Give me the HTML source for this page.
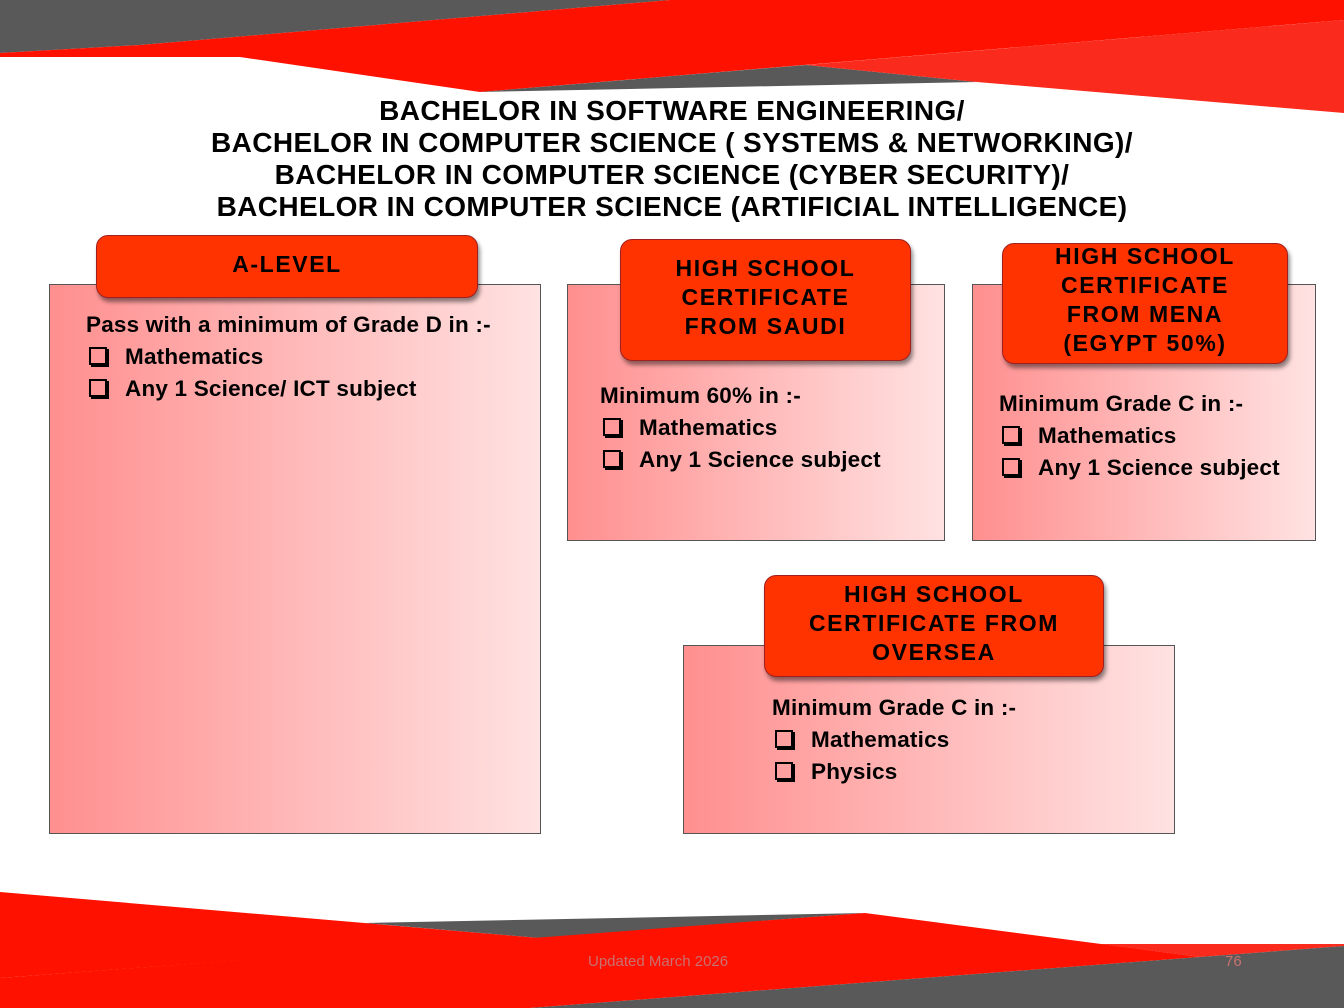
<!DOCTYPE html>
<html><head><style>
body{margin:0;width:1344px;height:1008px;position:relative;overflow:hidden;background:#fff;font-family:"Liberation Sans",Arial,sans-serif}
svg.bg{position:absolute;left:0;top:0}
.title{position:absolute;left:0;width:1344px;top:95px;text-align:center;font-weight:bold;font-size:28px;line-height:32px;color:#000;letter-spacing:0.4px}
.box{position:absolute;border:1px solid #555;background:linear-gradient(to right,#ff8f8f,#ffe2e2)}
.hd{position:absolute;background:#ff3300;border:1px solid #a02020;border-radius:12px;box-shadow:2px 4px 4px rgba(0,0,0,.45);color:#000;font-weight:bold;font-size:23px;line-height:29px;text-align:center;display:flex;align-items:center;justify-content:center;letter-spacing:1.6px}
.tx{position:absolute;font-size:22.5px;line-height:32px;color:#000;letter-spacing:0.2px;font-weight:600}
.cb{display:inline-block;width:14px;height:14px;border:2px solid #000;margin:0 18px 0 3px;vertical-align:-1px;box-shadow:2px 2px 0 #000}
.ft{position:absolute;top:953px;font-size:15px;color:#c97070}
</style></head><body>
<svg class="bg" width="1344" height="1008">
<polygon points="0,0 670,0 140,45 0,53" fill="#595959"/>
<polygon points="0,53 140,45 670,0 1344,0 1344,20 480,92 240,57 0,57" fill="#ff1100"/>
<polygon points="480,92 806,65 977,82" fill="#595959"/>
<polygon points="806,65 1344,20 1344,113 977,82" fill="#fa2a1c"/>
<polygon points="0,892 540,938 0,978" fill="#ff1100"/>
<polygon points="365,923 865,913 540,938" fill="#595959"/>
<polygon points="0,978 865,913 1200,957 530,1008 0,1008" fill="#ff1100"/>
<polygon points="1100,944 1344,944 1344,946 1200,957" fill="#fa2a1c"/>
<polygon points="1200,957 1344,946 1344,1008 530,1008" fill="#595959"/>
</svg>
<div class="title">BACHELOR IN SOFTWARE ENGINEERING/<br>BACHELOR IN COMPUTER SCIENCE ( SYSTEMS &amp; NETWORKING)/<br>BACHELOR IN COMPUTER SCIENCE (CYBER SECURITY)/<br>BACHELOR IN COMPUTER SCIENCE (ARTIFICIAL INTELLIGENCE)</div>

<div class="box" style="left:49px;top:284px;width:490px;height:548px"></div>
<div class="box" style="left:567px;top:284px;width:376px;height:255px"></div>
<div class="box" style="left:972px;top:284px;width:342px;height:255px"></div>
<div class="box" style="left:683px;top:645px;width:490px;height:187px"></div>

<div class="hd" style="left:96px;top:235px;width:382px;height:63px;padding-bottom:4px;box-sizing:border-box">A-LEVEL</div>
<div class="hd" style="left:620px;top:239px;width:291px;height:122px;padding-bottom:6px;box-sizing:border-box">HIGH SCHOOL<br>CERTIFICATE<br>FROM SAUDI</div>
<div class="hd" style="left:1002px;top:243px;width:286px;height:121px;padding-bottom:8px;box-sizing:border-box">HIGH SCHOOL<br>CERTIFICATE<br>FROM MENA<br>(EGYPT 50%)</div>
<div class="hd" style="left:764px;top:575px;width:340px;height:102px;padding-bottom:6px;box-sizing:border-box">HIGH SCHOOL<br>CERTIFICATE FROM<br>OVERSEA</div>

<div class="tx" style="left:86px;top:309px">Pass with a minimum of Grade D in :-<br><span class="cb"></span>Mathematics<br><span class="cb"></span>Any 1 Science/ ICT subject</div>
<div class="tx" style="left:600px;top:380px">Minimum 60% in :-<br><span class="cb"></span>Mathematics<br><span class="cb"></span>Any 1 Science subject</div>
<div class="tx" style="left:999px;top:388px">Minimum Grade C in :-<br><span class="cb"></span>Mathematics<br><span class="cb"></span>Any 1 Science subject</div>
<div class="tx" style="left:772px;top:692px">Minimum Grade C in :-<br><span class="cb"></span>Mathematics<br><span class="cb"></span>Physics</div>

<div class="ft" style="left:588px">Updated March 2026</div>
<div class="ft" style="left:1225px">76</div>
</body></html>
